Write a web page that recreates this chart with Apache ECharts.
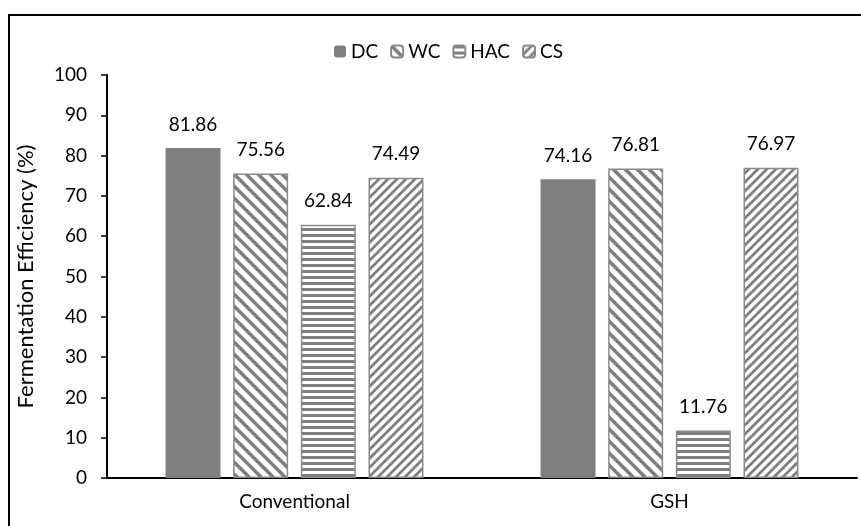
<!DOCTYPE html>
<html>
<head>
<meta charset="utf-8">
<script src="https://cdn.jsdelivr.net/npm/echarts@6/dist/echarts.min.js"></script>
<style>
  html, body { margin: 0; padding: 0; background: #fff; }
  #chart { width: 861px; height: 526px; }
</style>
</head>
<body>
<div id="chart"></div>
<script>
// Fermentation efficiency by pretreatment method
const categories = ['Conventional', 'GSH'];
const seriesNames = ['DC', 'WC', 'HAC', 'CS'];
const dcValues = [81.86, 74.16];
const wcValues = [75.56, 76.81];
const hacValues = [62.84, 11.76];
const csValues = [74.49, 76.97];
const yTicks = { min: 0, max: 100, interval: 10 };

const GRAY = '#7f7f7f';
const FONT = 'Lato';

// Hatch fills drawn on small tiles and repeated across the bars
function hatch(kind) {
  const size = kind === 'back' ? 12 : kind === 'fwd' ? 9 : 6;
  const c = document.createElement('canvas');
  c.width = size; c.height = size;
  const g = c.getContext('2d');
  g.fillStyle = '#fff';
  g.fillRect(0, 0, size, size);
  g.strokeStyle = GRAY;
  g.fillStyle = GRAY;
  if (kind === 'horiz') {
    g.fillRect(0, 0, size, 3);
  } else {
    g.lineWidth = kind === 'back' ? 3.6 : 2.8;
    g.beginPath();
    if (kind === 'back') {
      g.moveTo(-size, -size); g.lineTo(size, size);
      g.moveTo(0, -size); g.lineTo(size * 2, size);
      g.moveTo(-size, 0); g.lineTo(size, size * 2);
    } else {
      g.moveTo(-size, size); g.lineTo(size, -size);
      g.moveTo(0, size); g.lineTo(size, 0);
      g.moveTo(0, size * 2); g.lineTo(size * 2, 0);
    }
    g.stroke();
  }
  return { image: c, repeat: 'repeat' };
}

const fills = [GRAY, hatch('back'), hatch('horiz'), hatch('fwd')];
const values = [dcValues, wcValues, hacValues, csValues];

const chart = echarts.init(document.getElementById('chart'), null, { renderer: 'canvas' });

const series = seriesNames.map((name, i) => ({
  name,
  type: 'bar',
  data: values[i],
  barWidth: 55,
  barGap: '23%',
  itemStyle: {
    color: fills[i],
    borderColor: i === 0 ? GRAY : '#8a8a8a',
    borderWidth: i === 0 ? 0 : 1.5
  },
  label: {
    show: true,
    position: 'top',
    distance: 14,
    color: '#000',
    fontFamily: FONT,
    fontSize: 19,
    formatter: p => p.value.toFixed(2)
  }
}));

chart.setOption({
  animation: false,
  backgroundColor: '#fff',
  textStyle: { fontFamily: FONT },
  graphic: [{
    type: 'rect',
    shape: { x: 9, y: 15, width: 900, height: 600 },
    style: { fill: 'none', stroke: '#000', lineWidth: 2 },
    silent: true,
    z: 100
  }],
  legend: {
    data: seriesNames,
    left: 329,
    top: 37,
    itemWidth: 12,
    itemHeight: 12,
    itemGap: 12,
    textStyle: { fontFamily: FONT, fontSize: 19, color: '#000' }
  },
  grid: { left: 107, right: 4, top: 75, bottom: 48 },
  xAxis: {
    type: 'category',
    data: categories,
    axisLine: { lineStyle: { color: '#000', width: 2 } },
    axisTick: { show: false },
    axisLabel: { color: '#000', fontFamily: FONT, fontSize: 19, margin: 14 }
  },
  yAxis: {
    type: 'value',
    min: yTicks.min,
    max: yTicks.max,
    interval: yTicks.interval,
    name: 'Fermentation Efficiency (%)',
    nameLocation: 'middle',
    nameGap: 70,
    nameTextStyle: { color: '#000', fontFamily: FONT, fontSize: 22 },
    splitLine: { show: false },
    axisLine: { show: true, lineStyle: { color: '#000', width: 2 } },
    axisTick: { show: true, length: 6, lineStyle: { color: '#000', width: 1.5 } },
    axisLabel: { color: '#000', fontFamily: FONT, fontSize: 19, margin: 20 }
  },
  series
});
</script>
</body>
</html>
